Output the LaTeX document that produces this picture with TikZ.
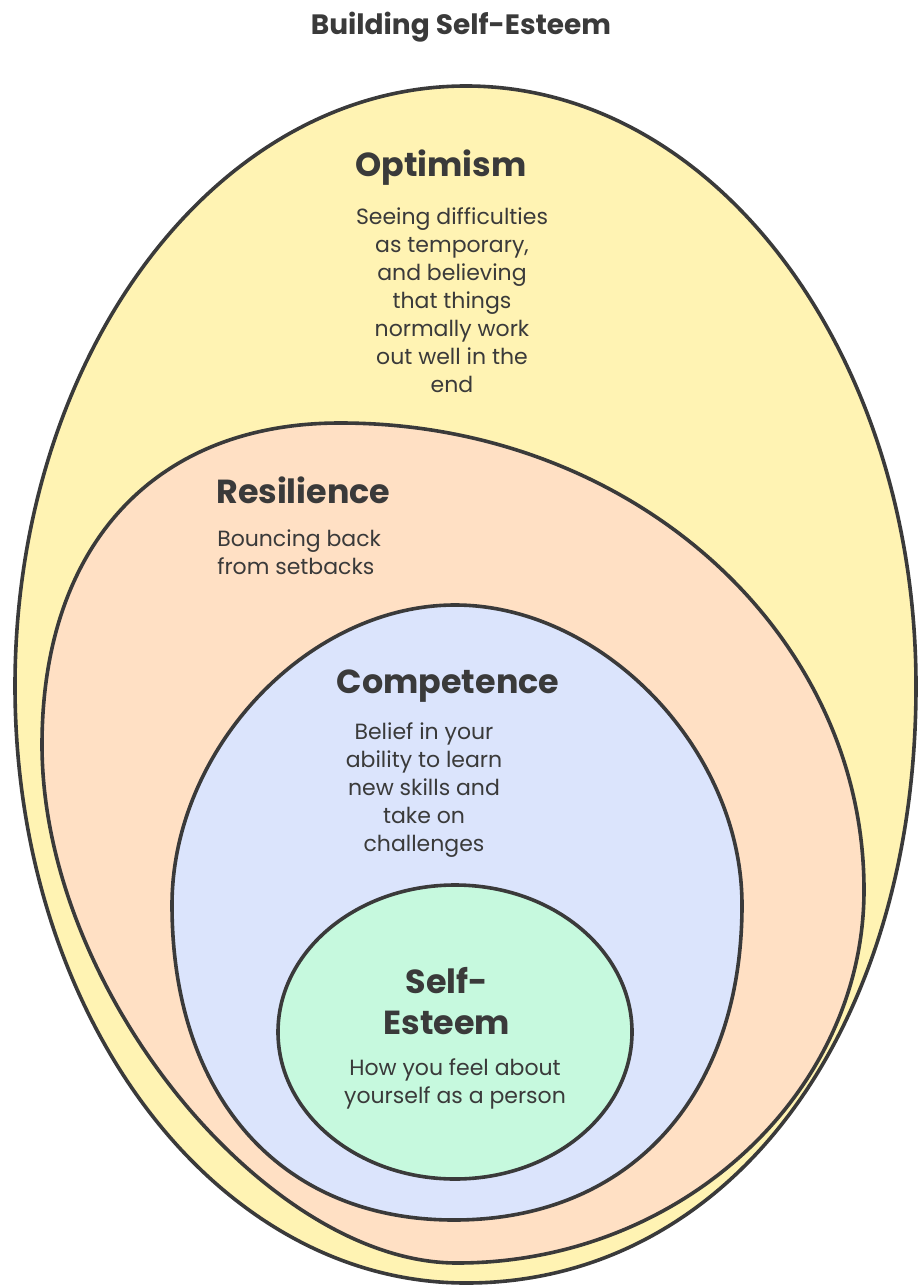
\documentclass[tikz,border=0pt]{standalone}
\usepackage{fontspec}
\setmainfont{Poppins}
\definecolor{yel}{HTML}{FFF3B3}
\definecolor{pea}{HTML}{FFE0C4}
\definecolor{blu}{HTML}{DBE4FC}
\definecolor{grn}{HTML}{C6F9DE}
\definecolor{ink}{HTML}{3A3A3A}
\begin{document}
\begin{tikzpicture}[x=0.75pt,y=-0.75pt,
  ring/.style={draw=ink, line width=2.7pt, line join=round},
  ttl/.style={font=\bfseries\fontsize{25}{31}\selectfont, text=ink, inner sep=0pt, align=center},
  body/.style={font=\fontsize{16.5}{21}\selectfont, text=ink, inner sep=0pt, align=center},
  head/.style={font=\bfseries\fontsize{21}{25}\selectfont, text=ink, inner sep=0pt}]
\useasboundingbox (0,0) rectangle (919,1287);
% outer: Optimism
\draw[ring, fill=yel] (466,86)
  .. controls (716,86) and (916,355) .. (916,686)
  .. controls (916,1030) and (730,1283) .. (466,1283)
  .. controls (216,1283) and (15,1017) .. (15,686)
  .. controls (15,355) and (216,86) .. (466,86) -- cycle;
% Resilience
\draw[ring, fill=pea] (340,423)
  .. controls (631,423) and (864,632) .. (864,890)
  .. controls (864,1093) and (681,1263) .. (457,1263)
  .. controls (267,1263) and (42,990) .. (42,745)
  .. controls (42,545) and (155,423) .. (340,423) -- cycle;
% Competence
\draw[ring, fill=blu] (455,605)
  .. controls (602,605) and (742,749) .. (742,905)
  .. controls (742,1096) and (630,1220) .. (454,1220)
  .. controls (280,1220) and (172,1096) .. (172,905)
  .. controls (172,749) and (308,605) .. (455,605) -- cycle;
% Self-Esteem
\draw[ring, fill=grn] (455,1032) ellipse [x radius=177, y radius=147];
% texts
\node[head] (title) at (461,27) {Building Self-Esteem};
\node[ttl] (opt) at (441,168) {Optimism};
\node[body] (optb) at (452,300) {Seeing difficulties\\as temporary,\\and believing\\that things\\normally work\\out well in the\\end};
\node[ttl, anchor=west] (res) at (216,490) {Resilience};
\node[body, align=left, anchor=west] (resb) at (217,552) {Bouncing back\\from setbacks};
\node[ttl] (com) at (448,686) {Competence};
\node[body] (comb) at (424,790) {Belief in your\\ability to learn\\new skills and\\take on\\challenges};
\node[ttl] (se) at (447,1001) {Self-\\Esteem};
\node[body] (seb) at (455,1084) {How you feel about\\yourself as a person};
\end{tikzpicture}
\end{document}
